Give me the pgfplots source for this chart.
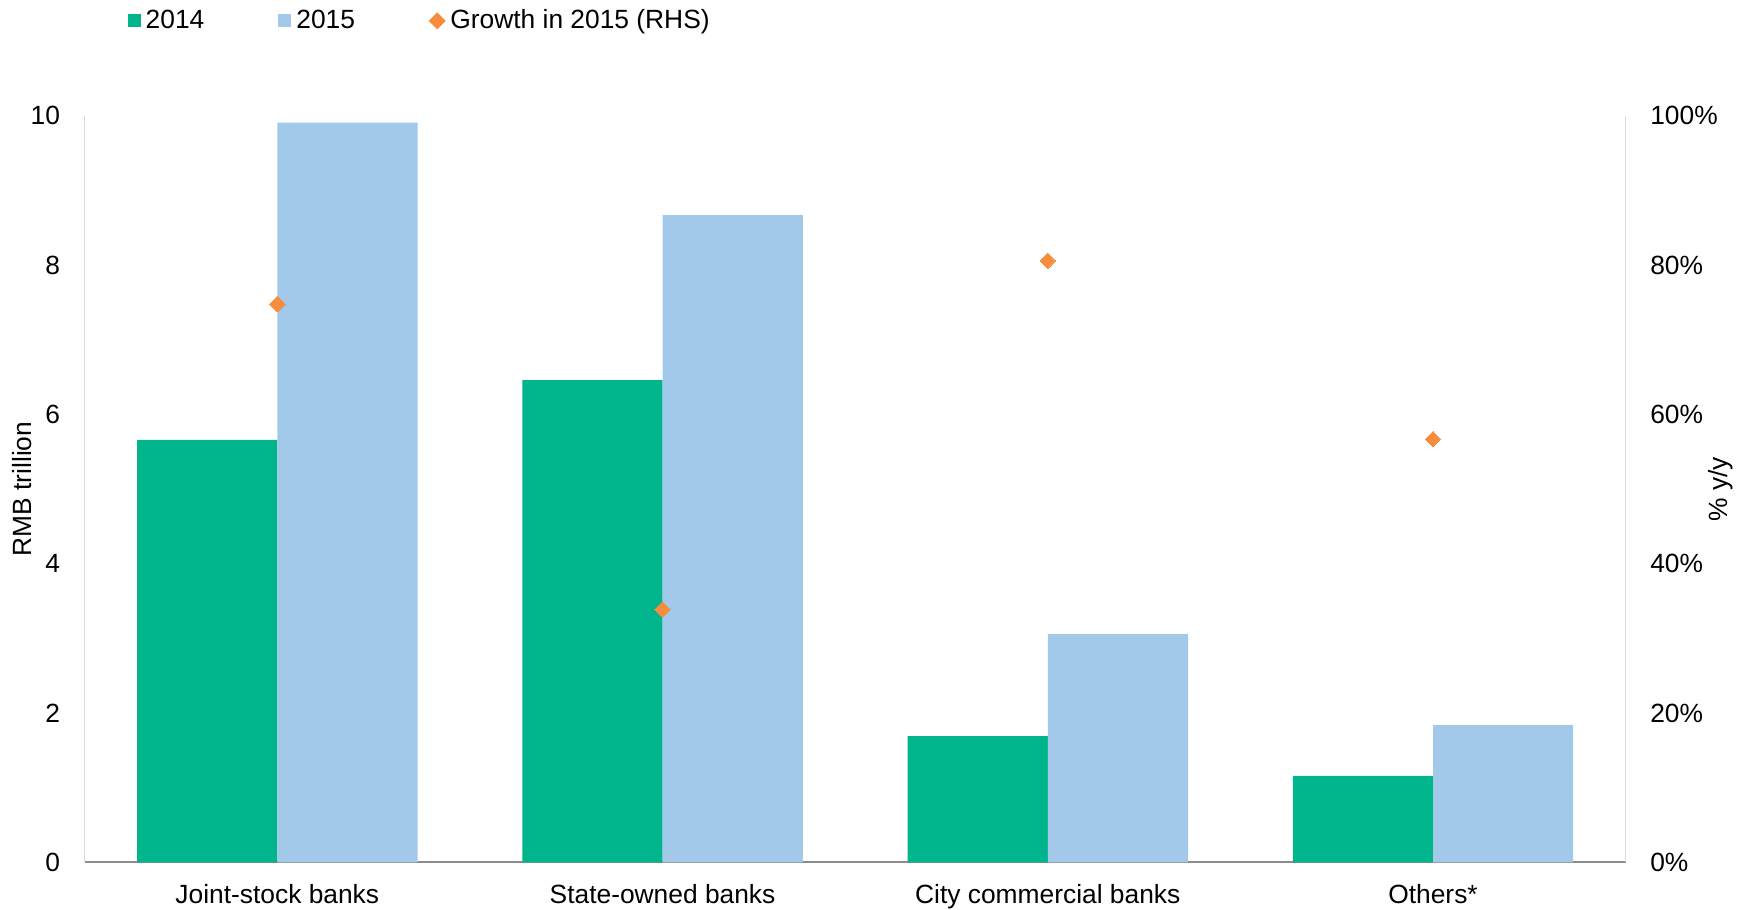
\documentclass[border=0pt]{standalone}
\usepackage{pgfplots}
\pgfplotsset{compat=1.18}
\usepackage{fontspec}
\setmainfont{Liberation Sans}
\definecolor{cA}{HTML}{00B48C}
\definecolor{cB}{HTML}{A2C8EA}
\definecolor{cC}{HTML}{F68D3C}
\definecolor{axg}{HTML}{D9D9D9}
\definecolor{axd}{HTML}{8C8C8C}
\begin{document}
\fontsize{7.5}{9}\selectfont
\begin{tikzpicture}
\useasboundingbox (-0.847,-0.466) rectangle (16.623,8.624);
\begin{axis}[
  at={(0,0)}, anchor=south west,
  scale only axis, width=15.409cm, height=7.465cm,
  font=\fontsize{7.5}{9}\selectfont,
  /pgf/number format/assume math mode=true,
  xmin=-0.5, xmax=3.5, ymin=0, ymax=10,
  ybar=0pt, bar width=0.364,
  xtick={0,1,2,3},
  xticklabels={Joint-stock banks, State-owned banks, City commercial banks, Others*},
  ytick={0,2,4,6,8,10},
  major tick length=0pt,
  axis x line*=bottom, axis y line*=left,
  x axis line style={-, draw=axd, line width=0.6pt},
  y axis line style={-, draw=axg, line width=0.4pt},
  xticklabel style={inner sep=0pt, anchor=north, yshift=-0.21cm},
  yticklabel style={inner sep=0pt, anchor=east, xshift=-0.24cm},
  ylabel={RMB trillion},
  ylabel style={at={(axis description cs:-0.0407,0.5)}, anchor=center, rotate=0},
  legend columns=3,
  legend style={draw=none, fill=none, inner sep=0pt, outer sep=0pt,
    at={(axis description cs:0,1)}, anchor=west, xshift=0.43cm, yshift=0.95cm,
    nodes={inner sep=0pt, anchor=west},
    /tikz/every odd column/.append style={column sep=0.05cm},
    /tikz/every even column/.append style={column sep=0.74cm}},
]
\addplot[fill=cA, draw=none,
  legend image code/.code={\fill[cA] (0cm,-0.065cm) rectangle (0.13cm,0.065cm);}]
  coordinates {(0,5.66) (1,6.46) (2,1.69) (3,1.16)};
\addlegendentry{2014}
\addplot[fill=cB, draw=none,
  legend image code/.code={\fill[cB] (0cm,-0.065cm) rectangle (0.13cm,0.065cm);}]
  coordinates {(0,9.91) (1,8.67) (2,3.06) (3,1.84)};
\addlegendentry{2015}
\addlegendimage{legend image code/.code={\fill[cC] (0.075cm,-0.075cm) -- (0.15cm,0cm) -- (0.075cm,0.075cm) -- (0cm,0cm) -- cycle;}}
\addlegendentry{Growth in 2015 (RHS)}
\end{axis}
\begin{axis}[
  at={(0,0)}, anchor=south west,
  scale only axis, width=15.409cm, height=7.465cm,
  font=\fontsize{7.5}{9}\selectfont,
  /pgf/number format/assume math mode=true,
  xmin=-0.5, xmax=3.5, ymin=0, ymax=100,
  axis x line=none, axis y line*=right,
  y axis line style={-, draw=axg, line width=0.4pt},
  major tick length=0pt,
  ytick={0,20,40,60,80,100},
  yticklabels={0\%,20\%,40\%,60\%,80\%,100\%},
  yticklabel style={inner sep=0pt, anchor=west, xshift=0.24cm},
  ylabel={\% y/y},
  ylabel style={at={(axis description cs:1.0619,0.5)}, anchor=center, rotate=0},
]
\addplot[color=cC, only marks, mark=square*, mark size=1.55pt, mark options={rotate=45, fill=cC, draw=cC, line width=0pt}]
  coordinates {(0,74.8) (1,33.9) (2,80.6) (3,56.7)};
\end{axis}
\end{tikzpicture}
\end{document}
